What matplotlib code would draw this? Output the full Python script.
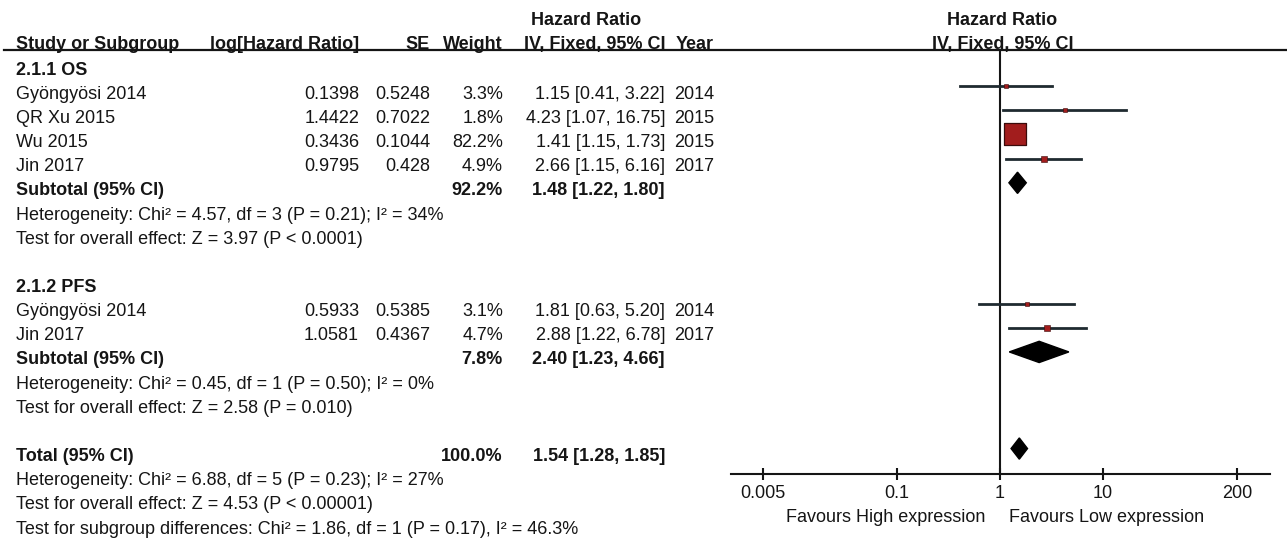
import numpy as np
import matplotlib.pyplot as plt
from matplotlib.ticker import FixedLocator, FixedFormatter, NullLocator

plt.rcParams['font.family'] = ['Liberation Sans', 'DejaVu Sans']

# ---- data ----
os_names = ['Gyöngyösi 2014', 'QR Xu 2015', 'Wu 2015', 'Jin 2017']
os_loghr = [0.1398, 1.4422, 0.3436, 0.9795]
os_se = [0.5248, 0.7022, 0.1044, 0.428]
os_weight = [3.3, 1.8, 82.2, 4.9]
os_hr = [1.15, 4.23, 1.41, 2.66]
os_lo = [0.41, 1.07, 1.15, 1.15]
os_hi = [3.22, 16.75, 1.73, 6.16]
os_year = [2014, 2015, 2015, 2017]
os_sub = [92.2, 1.48, 1.22, 1.80]

pfs_names = ['Gyöngyösi 2014', 'Jin 2017']
pfs_loghr = [0.5933, 1.0581]
pfs_se = [0.5385, 0.4367]
pfs_weight = [3.1, 4.7]
pfs_hr = [1.81, 2.88]
pfs_lo = [0.63, 1.22]
pfs_hi = [5.20, 6.78]
pfs_year = [2014, 2017]
pfs_sub = [7.8, 2.40, 1.23, 4.66]

total = [100.0, 1.54, 1.28, 1.85]

os_notes = ['Heterogeneity: Chi² = 4.57, df = 3 (P = 0.21); I² = 34%',
            'Test for overall effect: Z = 3.97 (P < 0.0001)']
pfs_notes = ['Heterogeneity: Chi² = 0.45, df = 1 (P = 0.50); I² = 0%',
             'Test for overall effect: Z = 2.58 (P = 0.010)']
total_notes = ['Heterogeneity: Chi² = 6.88, df = 5 (P = 0.23); I² = 27%',
               'Test for overall effect: Z = 4.53 (P < 0.00001)',
               'Test for subgroup differences: Chi² = 1.86, df = 1 (P = 0.17), I² = 46.3%']

ticks = [0.005, 0.1, 1, 10, 200]
tick_labels = ['0.005', '0.1', '1', '10', '200']

# ---- layout ----
W, H = 1287, 539
fig = plt.figure(figsize=(W / 100, H / 100), dpi=100)

row0, pitch = 62, 24.16
def prow(py):
    return (py - row0) / pitch
ylim = (prow(H), prow(0))

one_px, dec_px = 1000, 103
def hr_at(px):
    return 10 ** ((px - one_px) / dec_px)

ax_t = fig.add_axes([0, 0, 1, 1])
ax_t.set_xlim(0, W)
ax_t.set_ylim(*ylim)
ax_t.axis('off')

ax_f = fig.add_axes([700 / W, 0, (W - 700) / W, 1])
ax_f.set_xscale('log')
ax_f.set_xlim(hr_at(700), hr_at(W))
ax_f.set_ylim(*ylim)
ax_f.axis('off')

FS = 13
TC = '#151515'
CI_C = '#1f2a30'
BOX_C = '#a21d1d'
BASE = 0.52  # baseline offset below row centre

def txt(r, x, s, ha='left', bold=False):
    ax_t.text(x, r + BASE, s, ha=ha, va='baseline', fontsize=FS, color=TC,
              fontweight='bold' if bold else 'normal')

C_STUDY, C_LOG, C_SE, C_W, C_CI, C_YEAR = 16, 359, 430, 503, 665, 714

# headers
hdr = prow(49) - BASE
hdr2 = prow(25) - BASE
txt(hdr, C_STUDY, 'Study or Subgroup', bold=True)
txt(hdr, C_LOG, 'log[Hazard Ratio]', ha='right', bold=True)
txt(hdr, C_SE, 'SE', ha='right', bold=True)
txt(hdr, C_W, 'Weight', ha='right', bold=True)
txt(hdr, C_CI, 'IV, Fixed, 95% CI', ha='right', bold=True)
txt(hdr, C_YEAR, 'Year', ha='right', bold=True)
txt(hdr2, 586, 'Hazard Ratio', ha='center', bold=True)
txt(hdr, 1003, 'IV, Fixed, 95% CI', ha='center', bold=True)
txt(hdr2, 1002, 'Hazard Ratio', ha='center', bold=True)
ax_t.axhline(prow(50.5), xmin=4 / W, color=TC, lw=1.6)

max_w = max(os_weight + pfs_weight)
def side(w):
    return 15.8 * np.sqrt(w / max_w)

def summary(r, label, vals):
    w, est, lo, hi = vals
    txt(r, C_STUDY, label, bold=True)
    txt(r, C_W, f'{w:.1f}%', ha='right', bold=True)
    txt(r, C_CI, f'{est:.2f} [{lo:.2f}, {hi:.2f}]', ha='right', bold=True)
    h = 0.44
    ax_f.fill([lo, est, hi, est], [r, r - h, r, r + h], color='black', zorder=4)

def group(r0, title, names, loghr, se, weight, hr, lo, hi, year, sub, notes):
    txt(r0, C_STUDY, title, bold=True)
    for i in range(len(names)):
        r = r0 + 1 + i
        txt(r, C_STUDY, names[i])
        txt(r, C_LOG, f'{loghr[i]:g}', ha='right')
        txt(r, C_SE, f'{se[i]:g}', ha='right')
        txt(r, C_W, f'{weight[i]:.1f}%', ha='right')
        txt(r, C_CI, f'{hr[i]:.2f} [{lo[i]:.2f}, {hi[i]:.2f}]', ha='right')
        txt(r, C_YEAR, str(year[i]), ha='right')
        ax_f.plot([lo[i], hi[i]], [r, r], color=CI_C, lw=2, zorder=3)
        ax_f.scatter([hr[i]], [r], marker='s', s=side(weight[i]) ** 2,
                     color=BOX_C, edgecolor='#3a0b0b',
                     lw=0.9 if weight[i] > 20 else 0.4, zorder=4)
    rs = r0 + 1 + len(names)
    summary(rs, 'Subtotal (95% CI)', sub)
    for j, n in enumerate(notes):
        txt(rs + 1 + j, C_STUDY, n)
    return rs + 1 + len(notes)

r_next = group(0, '2.1.1 OS', os_names, os_loghr, os_se, os_weight,
               os_hr, os_lo, os_hi, os_year, os_sub, os_notes)
r_next = group(r_next + 1, '2.1.2 PFS', pfs_names, pfs_loghr, pfs_se, pfs_weight,
               pfs_hr, pfs_lo, pfs_hi, pfs_year, pfs_sub, pfs_notes)
r_tot = r_next + 1
summary(r_tot, 'Total (95% CI)', total)
for j, n in enumerate(total_notes):
    txt(r_tot + 1 + j, C_STUDY, n)

# line of no effect
axis_py = 474
ax_f.vlines(1, prow(50.5), prow(axis_py), color=TC, lw=1.5, zorder=2)

# x axis
ax_x = fig.add_axes([731 / W, 1 - axis_py / H, (1270 - 731) / W, 1e-4])
ax_x.set_xscale('log')
ax_x.set_xlim(hr_at(731), hr_at(1270))
for s in ['top', 'left', 'right']:
    ax_x.spines[s].set_visible(False)
ax_x.spines['bottom'].set_linewidth(1.5)
ax_x.spines['bottom'].set_color(TC)
ax_x.set_yticks([])
ax_x.xaxis.set_major_locator(FixedLocator(ticks))
ax_x.xaxis.set_major_formatter(FixedFormatter(tick_labels))
ax_x.xaxis.set_minor_locator(NullLocator())
ax_x.tick_params(axis='x', direction='inout', length=8, width=1.5, color=TC,
                 labelsize=FS, labelcolor=TC, pad=4)
ax_x.patch.set_alpha(0)

fav_r = prow(517)
ax_f.text(hr_at(985), fav_r, 'Favours High expression', ha='right', va='center',
          fontsize=FS, color=TC)
ax_f.text(hr_at(1009), fav_r, 'Favours Low expression', ha='left', va='center',
          fontsize=FS, color=TC)

fig.savefig('out.png', dpi=100, facecolor='white')
